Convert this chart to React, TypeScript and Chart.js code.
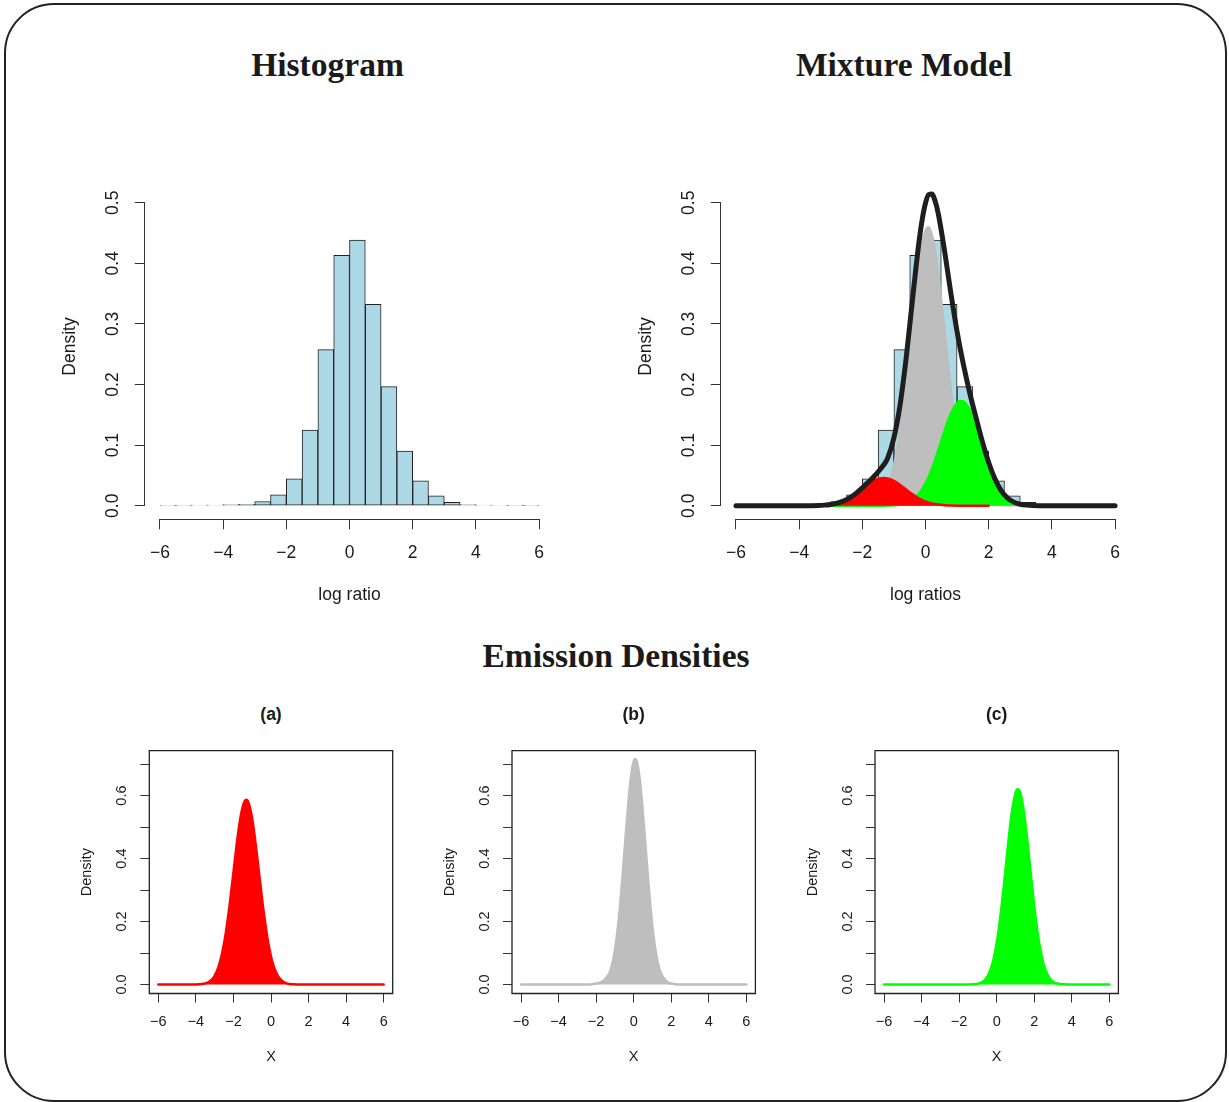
import React, { useEffect, useRef } from 'react';
import { Chart, registerables } from 'chart.js';

Chart.register(...registerables);

// ---------------- data ----------------
const BIN_MIDS = [-5.75, -5.25, -4.75, -4.25, -3.75, -3.25, -2.75, -2.25, -1.75, -1.25, -0.75, -0.25,
  0.25, 0.75, 1.25, 1.75, 2.25, 2.75, 3.25, 3.75, 4.25, 4.75, 5.25, 5.75];
const HIST_DENSITY = [0.0005, 0.0005, 0.001, 0.001, 0.002, 0.0025, 0.007, 0.018, 0.0445, 0.1247, 0.2577, 0.4132,
  0.4385, 0.3324, 0.1967, 0.0901, 0.0412, 0.0165, 0.0055, 0.002, 0.001, 0.0008, 0.0005, 0.0005];

const XS = [-6, -5.5, -5, -4.5, -4, -3.8, -3.6, -3.4, -3.2, -3, -2.8, -2.6, -2.4, -2.2, -2, -1.8, -1.6, -1.4, -1.3,
  -1.2, -1, -0.8, -0.6, -0.4, -0.2, -0.1, 0, 0.1, 0.2, 0.3, 0.4, 0.6, 0.8, 1, 1.1, 1.2, 1.4, 1.6, 1.8, 2, 2.2, 2.4,
  2.6, 2.8, 3, 3.2, 3.4, 3.6, 3.8, 4, 4.5, 5, 5.5, 6];
const RED_DENSITY = [0, 0, 0, 0, 0.0003, 0.0008, 0.0021, 0.0055, 0.0129, 0.0278, 0.055, 0.0999, 0.1663, 0.2541,
  0.356, 0.4576, 0.5393, 0.583, 0.587, 0.578, 0.5255, 0.4382, 0.3351, 0.235, 0.1512, 0.1174, 0.0892, 0.0663,
  0.0483, 0.0344, 0.024, 0.0109, 0.0046, 0.0017, 0.001, 0.0006, 0.0002, 0.0001, 0, 0, 0, 0, 0, 0, 0, 0, 0, 0, 0,
  0, 0, 0, 0, 0];
const GREY_DENSITY = [0, 0, 0, 0, 0, 0, 0, 0, 0, 0, 0, 0, 0, 0.001, 0.003, 0.006, 0.012, 0.026, 0.036, 0.0511,
  0.1093, 0.2056, 0.3398, 0.494, 0.631, 0.6796, 0.7087, 0.7159, 0.6996, 0.6623, 0.6071, 0.4631, 0.3105, 0.183,
  0.1339, 0.0948, 0.0432, 0.02, 0.008, 0.003, 0.001, 0, 0, 0, 0, 0, 0, 0, 0, 0, 0, 0, 0, 0];
const GREEN_DENSITY = [0, 0, 0, 0, 0, 0, 0, 0, 0, 0, 0, 0, 0, 0, 0, 0, 0.0001, 0.0003, 0.0005, 0.0009, 0.0026,
  0.0069, 0.0166, 0.0366, 0.0731, 0.0996, 0.1325, 0.172, 0.218, 0.2697, 0.3258, 0.4418, 0.5439, 0.608, 0.6198,
  0.6168, 0.5681, 0.4751, 0.3606, 0.2485, 0.1554, 0.0882, 0.0455, 0.0213, 0.009, 0.0035, 0.0012, 0.0004, 0.0001,
  0, 0, 0, 0, 0];
// mixture weights (red, grey, green)
const MIX_WEIGHTS = [0.078, 0.643, 0.279];
const RED_MIX_XMAX = 2;

const X_TICKS = [-6, -4, -2, 0, 2, 4, 6];
const X_TICK_LABELS = ['\u22126', '\u22124', '\u22122', '0', '2', '4', '6'];
const Y_TICKS_TOP = [0, 0.1, 0.2, 0.3, 0.4, 0.5];
const Y_LABELS_TOP = ['0.0', '0.1', '0.2', '0.3', '0.4', '0.5'];
const Y_TICKS_EMIS = [0, 0.1, 0.2, 0.3, 0.4, 0.5, 0.6, 0.7];
const Y_LABELS_EMIS = ['0.0', '', '0.2', '', '0.4', '', '0.6', ''];

// ---------------- styling ----------------
const SANS = '"Liberation Sans", Arial, Helvetica, sans-serif';
const SERIF = '"Liberation Serif", "Times New Roman", serif';
const TEXT = '#1a1a1a';
const AXIS = '#333333';
const LIGHTBLUE = '#ADD8E6';
const RED = '#FF0000';
const GREY = '#BEBEBE';
const GREEN = '#00FF00';

Chart.defaults.font.family = SANS;

type Box = { left: number; top: number; right: number; bottom: number };
type Style = {
  font: number; tick: number; xPad: number; yPad: number; yTitlePad: number; xTitlePad: number;
  padL: number; yW: number; padT: number; xH: number; padR: number; padB: number;
};

const BIG: Style = { font: 17.5, tick: 10, xPad: 13.2, yPad: 9.6, yTitlePad: 19.5, xTitlePad: 24.5,
  padL: 40, yW: 104.8, padT: 23.7, xH: 110.7, padR: 45.8, padB: 0 };
const SMALL: Style = { font: 14.5, tick: 9, xPad: 10.5, yPad: 7.9, yTitlePad: 18.6, xTitlePad: 24.6,
  padL: 20, yW: 89.3, padT: 22.7, xH: 96.5, padR: 17.7, padB: 0 };

const HIST_AREA: Box = { left: 144.8, top: 173.7, right: 554.2, bottom: 519.3 };
const MIX_AREA: Box = { left: 720.8, top: 173.7, right: 1130.2, bottom: 519.3 };
const EMIS_AREAS: Box[] = [
  { left: 149.3, top: 750.7, right: 392.7, bottom: 993.5 },
  { left: 512, top: 750.7, right: 755.4, bottom: 993.5 },
  { left: 875, top: 750.7, right: 1118.4, bottom: 993.5 },
];

const X_RANGE = [-6.48, 6.48];
const Y_RANGE_TOP = [-0.0224, 0.548];
const Y_RANGE_EMIS = [-0.0286, 0.7426];

function layoutFor(area: Box, st: Style) {
  const left = Math.floor(area.left - st.yW - st.padL);
  const top = Math.floor(area.top - st.padT);
  const right = Math.ceil(area.right + st.padR);
  const bottom = Math.ceil(area.bottom + st.xH + st.padB);
  return {
    rect: { left, top, width: right - left, height: bottom - top },
    padding: {
      left: area.left - st.yW - left,
      top: area.top - top,
      right: right - area.right,
      bottom: bottom - area.bottom - st.xH,
    },
  };
}

const rAxesPlugin = {
  id: 'rAxes',
  afterDraw(chart: any, _args: any, opts: any) {
    const { ctx, chartArea } = chart;
    const xs = chart.scales.x;
    const ys = chart.scales.y;
    ctx.save();
    ctx.strokeStyle = opts.color || AXIS;
    ctx.lineWidth = opts.width || 1;
    ctx.beginPath();
    if (opts.box) {
      ctx.rect(chartArea.left, chartArea.top, chartArea.right - chartArea.left, chartArea.bottom - chartArea.top);
    } else {
      const xt = xs.ticks;
      const yt = ys.ticks;
      const yLine = Math.round(xs.top) + 0.5;
      ctx.moveTo(xs.getPixelForValue(xt[0].value), yLine);
      ctx.lineTo(xs.getPixelForValue(xt[xt.length - 1].value), yLine);
      const xLine = Math.round(ys.right) - 0.5;
      ctx.moveTo(xLine, ys.getPixelForValue(yt[0].value));
      ctx.lineTo(xLine, ys.getPixelForValue(yt[yt.length - 1].value));
    }
    ctx.stroke();
    ctx.restore();
  },
};

function buildOptions(st: Style, padding: any, xTitle: string, yTitle: string, yRange: number[],
  yTicks: number[], yLabels: string[], box: boolean) {
  const tickFont = { family: SANS, size: st.font, lineHeight: 1.2 };
  return {
    animation: false,
    responsive: false,
    maintainAspectRatio: false,
    events: [],
    layout: { padding },
    plugins: {
      legend: { display: false },
      tooltip: { enabled: false },
      title: { display: false },
      rAxes: { box, color: box ? '#222' : AXIS, width: box ? 1.3 : 1 },
    },
    scales: {
      x: {
        type: 'linear',
        position: 'bottom',
        min: X_RANGE[0],
        max: X_RANGE[1],
        offset: false,
        afterBuildTicks: (sc: any) => { sc.ticks = X_TICKS.map((v) => ({ value: v })); },
        afterFit: (sc: any) => { sc.height = st.xH; },
        ticks: {
          autoSkip: false, minRotation: 0, maxRotation: 0, padding: st.xPad, color: TEXT, font: tickFont,
          callback: (_v: any, i: number) => X_TICK_LABELS[i],
        },
        grid: { display: true, drawOnChartArea: false, drawTicks: true, tickLength: st.tick, color: AXIS, lineWidth: 1, offset: false },
        border: { display: false },
        title: { display: true, text: xTitle, color: TEXT, font: tickFont, padding: { top: 0, bottom: st.xTitlePad } },
      },
      y: {
        type: 'linear',
        position: 'left',
        min: yRange[0],
        max: yRange[1],
        afterBuildTicks: (sc: any) => { sc.ticks = yTicks.map((v) => ({ value: v })); },
        afterFit: (sc: any) => { sc.width = st.yW; },
        ticks: {
          autoSkip: false, minRotation: 90, maxRotation: 90, crossAlign: 'center', padding: st.yPad,
          color: TEXT, font: tickFont,
          callback: (_v: any, i: number) => yLabels[i],
        },
        grid: { display: true, drawOnChartArea: false, drawTicks: true, tickLength: st.tick, color: AXIS, lineWidth: 1 },
        border: { display: false },
        title: { display: true, text: yTitle, color: TEXT, font: tickFont, padding: { top: st.yTitlePad, bottom: 0 } },
      },
    },
  };
}

function histDataset() {
  return {
    type: 'bar',
    data: BIN_MIDS.map((x, i) => ({ x, y: HIST_DENSITY[i] })),
    backgroundColor: LIGHTBLUE,
    borderColor: '#222',
    borderWidth: 1,
    borderSkipped: false,
    barPercentage: 1,
    categoryPercentage: 1,
    grouped: false,
    order: 10,
  };
}

function curve(values: number[], color: string, width: number, order: number, fill: any, xmax = Infinity) {
  const pts = XS.map((x, i) => ({ x, y: values[i] })).filter((p) => p.x <= xmax);
  return {
    type: 'line',
    data: pts,
    borderColor: color,
    backgroundColor: color,
    borderWidth: width,
    pointRadius: 0,
    fill,
    cubicInterpolationMode: 'monotone',
    borderCapStyle: 'round',
    borderJoinStyle: 'round',
    order,
  };
}

function histConfig() {
  const lay = layoutFor(HIST_AREA, BIG);
  return {
    rect: lay.rect,
    config: {
      type: 'bar',
      data: { datasets: [histDataset()] },
      options: buildOptions(BIG, lay.padding, 'log ratio', 'Density', Y_RANGE_TOP, Y_TICKS_TOP, Y_LABELS_TOP, false),
      plugins: [rAxesPlugin],
    },
  };
}

function mixtureConfig() {
  const lay = layoutFor(MIX_AREA, BIG);
  const comps = [RED_DENSITY, GREY_DENSITY, GREEN_DENSITY].map((arr, k) => arr.map((v) => v * MIX_WEIGHTS[k]));
  const total = XS.map((_x, i) => comps[0][i] + comps[1][i] + comps[2][i]);
  return {
    rect: lay.rect,
    config: {
      type: 'bar',
      data: {
        datasets: [
          histDataset(),
          curve(comps[1], GREY, 1.5, 3, 'origin'),
          curve(comps[2], GREEN, 2.5, 2, 'origin'),
          curve(comps[0], RED, 2.5, 1, 'origin', RED_MIX_XMAX),
          curve(total, '#1e1e1e', 5, 0, false),
        ],
      },
      options: buildOptions(BIG, lay.padding, 'log ratios', 'Density', Y_RANGE_TOP, Y_TICKS_TOP, Y_LABELS_TOP, false),
      plugins: [rAxesPlugin],
    },
  };
}

function emissionConfig(k: number, values: number[], color: string) {
  const lay = layoutFor(EMIS_AREAS[k], SMALL);
  return {
    rect: lay.rect,
    config: {
      type: 'line',
      data: { datasets: [curve(values, color, 2.5, 0, 'origin')] },
      options: buildOptions(SMALL, lay.padding, 'X', 'Density', Y_RANGE_EMIS, Y_TICKS_EMIS, Y_LABELS_EMIS, true),
      plugins: [rAxesPlugin],
    },
  };
}

function ChartCanvas({ make }: { make: () => { rect: any; config: any } }) {
  const ref = useRef<HTMLCanvasElement>(null);
  const built = make();
  const rect = built.rect;
  useEffect(() => {
    const chart = new Chart(ref.current as HTMLCanvasElement, make().config as any);
    return () => chart.destroy();
  }, []);
  return (
    <canvas
      ref={ref}
      width={rect.width}
      height={rect.height}
      style={{ position: 'absolute', left: rect.left, top: rect.top, width: rect.width, height: rect.height }}
    />
  );
}

function Label({ text, cx, top, font }: { text: string; cx: number; top: number; font: string }) {
  return (
    <div
      style={{
        position: 'absolute', left: cx, top, transform: 'translateX(-50%)', whiteSpace: 'nowrap',
        font, lineHeight: 1, color: TEXT,
      }}
    >
      {text}
    </div>
  );
}

export default function App() {
  const titleFont = `bold 33.5px ${SERIF}`;
  const subFont = `bold 17.5px ${SANS}`;
  const centers = EMIS_AREAS.map((a) => (a.left + a.right) / 2);
  return (
    <div style={{ position: 'absolute', left: 0, top: 0, width: 1229, height: 1102, background: '#fff', overflow: 'hidden' }}>
      <div
        style={{
          position: 'absolute', left: 4, top: 3, width: 1223, height: 1099, boxSizing: 'border-box',
          border: '2px solid #222', borderRadius: 50,
        }}
      />
      <ChartCanvas make={histConfig} />
      <ChartCanvas make={mixtureConfig} />
      <ChartCanvas make={() => emissionConfig(0, RED_DENSITY, RED)} />
      <ChartCanvas make={() => emissionConfig(1, GREY_DENSITY, GREY)} />
      <ChartCanvas make={() => emissionConfig(2, GREEN_DENSITY, GREEN)} />
      <Label text="Histogram" cx={327.5} top={47.9} font={titleFont} />
      <Label text="Mixture Model" cx={904} top={47.9} font={titleFont} />
      <Label text="Emission Densities" cx={616} top={639} font={titleFont} />
      <Label text="(a)" cx={centers[0]} top={705.7} font={subFont} />
      <Label text="(b)" cx={centers[1]} top={705.7} font={subFont} />
      <Label text="(c)" cx={centers[2]} top={705.7} font={subFont} />
    </div>
  );
}
